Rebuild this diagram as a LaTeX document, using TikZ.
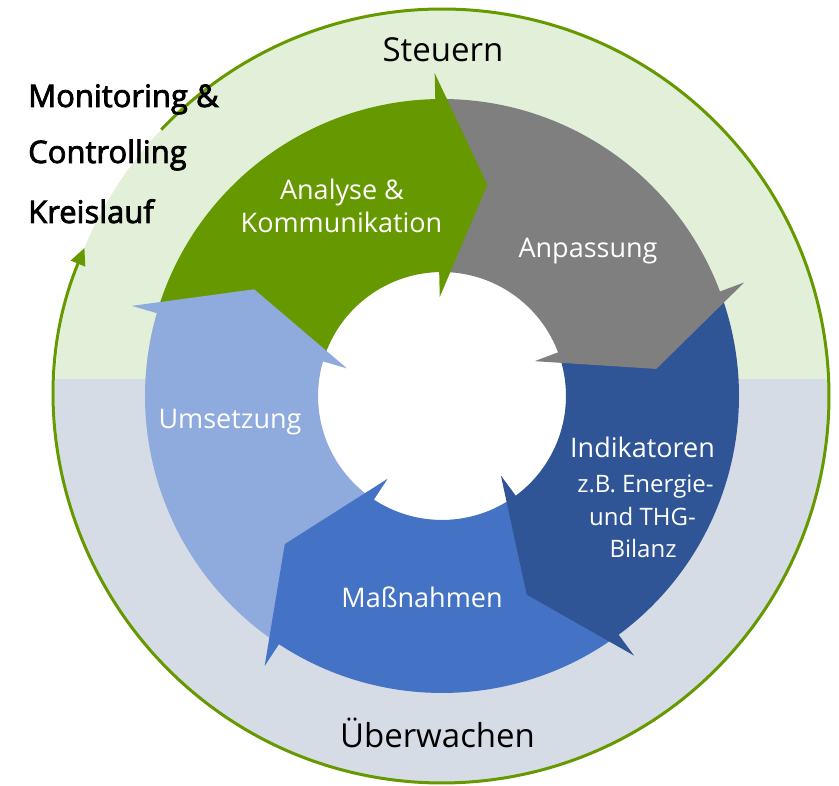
\documentclass[tikz,border=0pt]{standalone}
\usepackage{fontspec}
\setmainfont{Open Sans}
\newfontfamily\semib[FakeBold=2.5]{Open Sans}
\usetikzlibrary{arrows.meta}
\definecolor{cgreen}{HTML}{669900}
\definecolor{cgray}{HTML}{7F7F7F}
\definecolor{cdark}{HTML}{2F5597}
\definecolor{cmed}{HTML}{4472C4}
\definecolor{clight}{HTML}{8FAADC}
\definecolor{bggreen}{HTML}{E2F0D9}
\definecolor{bggray}{HTML}{D6DCE5}
\definecolor{outl}{HTML}{669900}
\begin{document}
\begin{tikzpicture}[x=1pt,y=1pt,
  lbl/.style={text=white, inner sep=0pt, font=\fontsize{27}{33}\selectfont},
  lblsmall/.style={text=white, inner sep=0pt, font=\fontsize{24}{30}\selectfont},
  big/.style={text=black, inner sep=0pt, font=\fontsize{33}{40}\selectfont},
  side/.style={text=black, inner sep=0pt, anchor=base west, font=\semib\fontsize{31}{38}\selectfont},
  outline/.style={draw=outl, line width=3pt}]
\useasboundingbox (0,0) rectangle (839,786);
\begin{scope}[shift={(442,390)}]
  % background
  \fill[bggreen] (0,0) circle[radius=387];
  \begin{scope}
    \clip (-442,-390) rectangle (400,16);
    \fill[bggray] (0,0) circle[radius=387];
  \end{scope}
  \draw[outline, -{Triangle[length=17pt,width=15pt]}] (136.5:387) arc[start angle=136.5, end angle=-202.5, radius=387];
  \fill[white] (0,0) circle[radius=124];
  % bodies (edges hidden under the heads)
  \foreach \s/\e/\col in {162.8/90.3/cgreen, 90.3/19.6/cgray, 19.6/-54.5/cdark, -54.5/-124.3/cmed, -124.3/-197.2/clight}
    \fill[\col] (\s:297) arc[start angle=\s, end angle=\e, radius=297] -- (\e:124) arc[start angle=\e, end angle=\s, radius=124] -- cycle;
  % heads
  \foreach \b/\col in {91.3/cgreen, 20.6/cgray, -53.5/cdark, -123.3/cmed, -196.2/clight}
    \fill[\col] (\b:99) -- (\b:323) -- ({\b-13.4}:216) -- cycle;
\end{scope}
% texts
\node[big, anchor=base] (steuern) at (443,724) {Steuern};
\node[big, anchor=base] (ueber) at (437.5,38) {Überwachen};
\node[side] (mon1) at (28,679) {Monitoring \&};
\node[side] (mon2) at (28,623) {Controlling};
\node[side] (mon3) at (28,563) {Kreislauf};
\node[lbl, anchor=base] (an1) at (342,586) {Analyse \&};
\node[lbl, anchor=base] (an2) at (341.5,553) {Kommunikation};
\node[lbl, anchor=base] (anp) at (588,528) {Anpassung};
\node[lbl, anchor=base] (ind1) at (642.5,328) {Indikatoren};
\node[lblsmall, anchor=base] (ind2) at (645.5,293) {z.B. Energie-};
\node[lblsmall, anchor=base] (ind3) at (642.5,260) {und THG-};
\node[lblsmall, anchor=base] (ind4) at (643,228) {Bilanz};
\node[lbl, anchor=base] (ums) at (230,357) {Umsetzung};
\node[lbl, anchor=base] (mass) at (422,178) {Maßnahmen};
\end{tikzpicture}
\end{document}
